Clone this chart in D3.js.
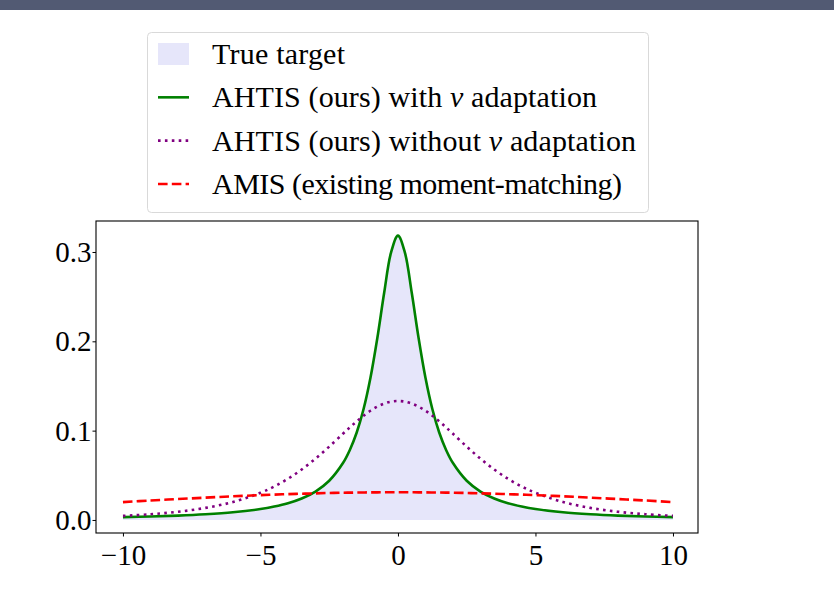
<!DOCTYPE html>
<html>
<head>
	<title></title>
	<style type="text/css">
        body{
            padding:0;
            margin:0;
            overflow: hidden;
            background:#fff;
        }
	</style>
</head>
<body>

<div id='svg-chart'></div>

<script type="text/javascript" src='https://cdn.jsdelivr.net/npm/d3@7/dist/d3.min.js'></script>
<script type="text/javascript">

    // sample positions on the x axis
    var xs = [-10, -9, -8, -7, -6, -5, -4.5, -4, -3.5, -3, -2.5, -2, -1.75, -1.5, -1.25, -1, -0.75, -0.5, -0.25,
              0, 0.25, 0.5, 0.75, 1, 1.25, 1.5, 1.75, 2, 2.5, 3, 3.5, 4, 4.5, 5, 6, 7, 8, 9, 10];

    // densities
    var trueTarget = [0.0032, 0.0039, 0.0049, 0.0064, 0.0086, 0.0122, 0.0150, 0.0187, 0.0240, 0.0318, 0.0439, 0.0637, 0.0784, 0.0979, 0.1242, 0.1592, 0.2037, 0.2546, 0.2996,
                      0.3183, 0.2996, 0.2546, 0.2037, 0.1592, 0.1242, 0.0979, 0.0784, 0.0637, 0.0439, 0.0318, 0.0240, 0.0187, 0.0150, 0.0122, 0.0086, 0.0064, 0.0049, 0.0039, 0.0032];
    var withNu = [0.0032, 0.0039, 0.0049, 0.0064, 0.0086, 0.0122, 0.0150, 0.0187, 0.0240, 0.0318, 0.0439, 0.0637, 0.0784, 0.0979, 0.1242, 0.1592, 0.2037, 0.2546, 0.2996,
                  0.3183, 0.2996, 0.2546, 0.2037, 0.1592, 0.1242, 0.0979, 0.0784, 0.0637, 0.0439, 0.0318, 0.0240, 0.0187, 0.0150, 0.0122, 0.0086, 0.0064, 0.0049, 0.0039, 0.0032];
    var withoutNu = [0.0046, 0.0064, 0.0092, 0.0135, 0.0201, 0.0304, 0.0374, 0.0461, 0.0565, 0.0686, 0.0821, 0.0965, 0.1036, 0.1104, 0.1167, 0.1223, 0.1269, 0.1303, 0.1325,
                     0.1332, 0.1325, 0.1303, 0.1269, 0.1223, 0.1167, 0.1104, 0.1036, 0.0965, 0.0821, 0.0686, 0.0565, 0.0461, 0.0374, 0.0304, 0.0201, 0.0135, 0.0092, 0.0064, 0.0046];
    var amis = [0.0200, 0.0218, 0.0234, 0.0250, 0.0265, 0.0278, 0.0284, 0.0289, 0.0294, 0.0298, 0.0302, 0.0305, 0.0306, 0.0307, 0.0308, 0.0309, 0.0309, 0.0310, 0.0310,
                0.0310, 0.0310, 0.0310, 0.0309, 0.0309, 0.0308, 0.0307, 0.0306, 0.0305, 0.0302, 0.0298, 0.0294, 0.0289, 0.0284, 0.0278, 0.0265, 0.0250, 0.0234, 0.0218, 0.0200];

    var xTicks = [-10, -5, 0, 5, 10];
    var yTicks = [0.0, 0.1, 0.2, 0.3];

    var legendLabels = ["True target", "AHTIS (ours) with ", "AHTIS (ours) without ", "AMIS (existing moment-matching)"];
    var legendTails = ["", " adaptation", " adaptation", ""];

    var serif = '"Liberation Serif", "Times New Roman", serif';
    var width = 834, height = 594;
    var pLeft = 96, pRight = 698, pTop = 221, pBottom = 533;

    var svg = d3.select('#svg-chart')
        .append('svg')
        .attr('width', width)
        .attr('height', height);

    // dark strip across the top of the page
    svg.append('rect')
        .attr('x', 0).attr('y', 0)
        .attr('width', width).attr('height', 10)
        .style('fill', '#525a73');

/*-----------------------------------------------------------------------
    scales
-----------------------------------------------------------------------*/
    var xScale = d3.scaleLinear().domain([-10.98, 10.91]).range([pLeft, pRight]);
    var yScale = d3.scaleLinear().domain([-0.0146, 0.3347]).range([pBottom, pTop]);

    var pts = (vals) => xs.map((x, i) => [x, vals[i]]);

    var line = d3.line()
        .x(d => xScale(d[0]))
        .y(d => yScale(d[1]))
        .curve(d3.curveCatmullRom);

    var area = d3.area()
        .x(d => xScale(d[0]))
        .y0(yScale(0))
        .y1(d => yScale(d[1]))
        .curve(d3.curveCatmullRom);

    var plot = svg.append('g');

    plot.append('path')
        .attr('d', area(pts(trueTarget)))
        .style('fill', '#e6e6fa')
        .style('stroke', 'none');

    plot.append('path')
        .attr('d', line(pts(withNu)))
        .style('fill', 'none')
        .style('stroke', '#008000')
        .style('stroke-width', 2.6);

    plot.append('path')
        .attr('d', line(pts(withoutNu)))
        .style('fill', 'none')
        .style('stroke', '#800080')
        .style('stroke-width', 2.6)
        .style('stroke-dasharray', '2.6,4.3');

    plot.append('path')
        .attr('d', line(pts(amis)))
        .style('fill', 'none')
        .style('stroke', '#ff0000')
        .style('stroke-width', 2.6)
        .style('stroke-dasharray', '9.6,4.2');

    // frame
    svg.append('rect')
        .attr('x', pLeft).attr('y', pTop)
        .attr('width', pRight - pLeft).attr('height', pBottom - pTop)
        .style('fill', 'none')
        .style('stroke', '#000')
        .style('stroke-width', 1.1);

/*-----------------------------------------------------------------------
    axes
-----------------------------------------------------------------------*/
    var fmtX = d => (d < 0 ? '\u2212' + Math.abs(d) : '' + d);

    var xAxis = svg.append('g')
        .attr('transform', 'translate(0,' + pBottom + ')')
        .call(d3.axisBottom(xScale).tickValues(xTicks).tickFormat(fmtX).tickSize(3.5).tickSizeOuter(0).tickPadding(6));
    var yAxis = svg.append('g')
        .attr('transform', 'translate(' + pLeft + ',0)')
        .call(d3.axisLeft(yScale).tickValues(yTicks).tickFormat(d3.format('.1f')).tickSize(3.5).tickSizeOuter(0).tickPadding(1));

    [xAxis, yAxis].forEach(function(a){
        a.select('.domain').remove();
        a.selectAll('line').style('stroke', '#000').style('stroke-width', 1);
        a.selectAll('text')
            .style('font-family', serif)
            .style('font-size', '29px')
            .style('fill', '#000');
    });
    yAxis.selectAll('text').attr('dy', '0.33em');
    xAxis.selectAll('text').attr('dy', '0.78em');

/*-----------------------------------------------------------------------
    legend
-----------------------------------------------------------------------*/
    var legend = svg.append('g');
    legend.append('rect')
        .attr('x', 147.5).attr('y', 32.5)
        .attr('width', 501).attr('height', 180)
        .attr('rx', 4).attr('ry', 4)
        .style('fill', '#fff')
        .style('fill-opacity', 0.8)
        .style('stroke', '#d9d9d9')
        .style('stroke-width', 1);

    var rowY = d3.scaleLinear().domain([0, 3]).range([64, 194]);

    legend.append('rect')
        .attr('x', 158).attr('y', 43)
        .attr('width', 31).attr('height', 22)
        .style('fill', '#e6e6fa');

    var legendStyles = [
        null,
        {c: '#008000', dash: null},
        {c: '#800080', dash: '2.6,4.3'},
        {c: '#ff0000', dash: '9.6,4.2'}
    ];
    legendStyles.forEach(function(s, i){
        if(!s) return;
        legend.append('line')
            .attr('x1', 158).attr('x2', 189)
            .attr('y1', rowY(i) - 10).attr('y2', rowY(i) - 10)
            .style('stroke', s.c)
            .style('stroke-width', 2.6)
            .style('stroke-dasharray', s.dash);
    });

    // widths the reference labels take up
    var labelWidths = [133, 385, 424, 410];

    legendLabels.forEach(function(lab, i){
        var t = legend.append('text')
            .attr('x', 212).attr('y', rowY(i))
            .style('font-family', serif)
            .style('font-size', '30px')
            .style('fill', '#000')
            .attr('xml:space', 'preserve');
        t.append('tspan').text(lab);
        if(legendTails[i]){
            t.append('tspan').style('font-style', 'italic').text('\u03bd');
            t.append('tspan').text(legendTails[i]);
        }
        t.attr('textLength', labelWidths[i]).attr('lengthAdjust', 'spacing');
    });

</script>

</body>
</html>
